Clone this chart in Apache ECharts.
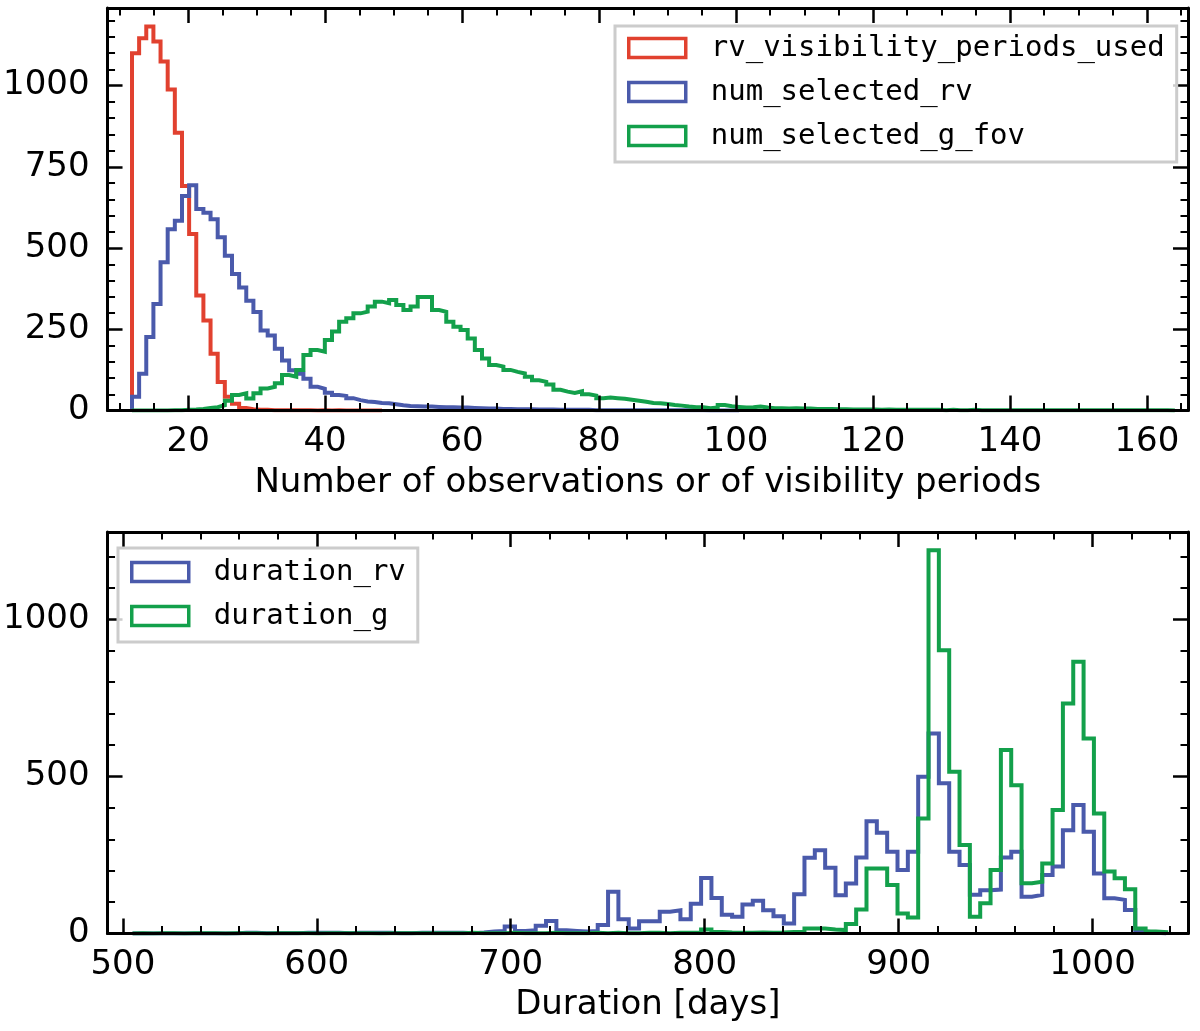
<!DOCTYPE html>
<html>
<head>
<meta charset="utf-8">
<script src="https://cdn.jsdelivr.net/npm/echarts@6/dist/echarts.min.js"></script>
<style>
html,body{margin:0;padding:0;background:#ffffff;}
#chart{width:1200px;height:1031px;}
</style>
</head>
<body>
<div id="chart"></div>
<script>
// ---------------- DATA ----------------
// Top panel: shared histogram bins
const TOP_BIN_START = 11.8;
const TOP_BIN_WIDTH = 1.043;
const rvVisibilityPeriodsUsed = [1100, 1146, 1182, 1136, 1074, 988, 855, 691, 543, 354, 277, 175, 88, 42, 21, 8, 4, 2, 2, 1, 1, 1, 1, 1, 1, 0, 1, 0, 1, 0, 0, 0, 0, 0, 0];
const numSelectedRv = [42, 113, 226, 328, 456, 558, 584, 660, 693, 620, 609, 589, 533, 476, 420, 379, 338, 303, 246, 231,
  190, 154, 124, 113, 98, 73, 67, 55, 48, 45, 38, 32, 28, 26, 23, 22, 19, 16, 14, 13,
  12, 12, 11, 10, 10, 9, 9, 8, 7, 6, 6, 5, 5, 4, 4, 4, 3, 3, 3, 2,
  2, 2, 2, 2, 1, 1, 1, 1, 1, 1, 1, 1, 1, 1, 1, 1, 1, 1, 1, 1, 0, 0, 0, 0, 0];
const numSelectedGFov = [0, 0, 0, 0, 0, 1, 1, 2, 3, 5, 8, 10, 16, 30, 48, 53, 37, 53, 68, 73,
  84, 109, 104, 125, 171, 186, 181, 217, 243, 273, 284, 299, 304, 320, 335, 330, 340, 325, 309, 320,
  349, 349, 309, 304, 273, 258, 248, 222, 186, 160, 140, 135, 125, 119, 114, 104, 93, 88, 80, 64,
  58, 54, 59, 50, 46, 38, 40, 38, 36, 33, 30, 27, 23, 22, 20, 17, 15, 12, 10, 10,
  7, 9, 17, 13, 11, 9, 10, 12, 9, 7, 7, 6, 7, 6, 6, 5, 5, 5, 4, 4,
  3, 3, 3, 3, 2, 3, 2, 2, 2, 2, 2, 2, 2, 1, 2, 1, 1, 2, 1, 1,
  1, 1, 1, 1, 1, 1, 1, 1, 1, 1, 1, 1, 1, 1, 1, 1, 1, 1, 1, 1, 1, 1, 1, 1, 1, 0];

// Bottom panel: shared histogram bins
const BOTTOM_BIN_START = 505;
const BOTTOM_BIN_WIDTH = 5.33;
const durationRv = [0, 0, 0, 0, 0, 0, 0, 0, 0, 0,
  2, 2, 1, 1, 1, 1, 2, 2, 2, 2,
  1, 2, 2, 2, 2, 1, 1, 2, 2, 2,
  2, 2, 1, 3, 6, 8, 22, 8, 10, 25,
  40, 10, 8, 6, 8, 27, 133, 45, 16, 39,
  39, 69, 74, 45, 95, 177, 113, 60, 53, 92,
  104, 74, 55, 32, 125, 241, 265, 209, 122, 159,
  242, 357, 321, 260, 202, 260, 499, 637, 478, 260,
  218, 123, 138, 140, 242, 260, 117, 123, 186, 213,
  329, 409, 324, 191, 112, 107, 75, 6, 3, 0];
const durationG = [1, 0, 1, 1, 0, 1, 1, 1, 0, 1,
  1, 1, 0, 1, 1, 1, 1, 0, 1, 1,
  1, 1, 1, 0, 1, 1, 1, 1, 1, 1,
  1, 1, 2, 1, 1, 1, 2, 1, 1, 1,
  2, 1, 1, 1, 2, 1, 2, 1, 1, 2,
  2, 1, 2, 2, 2, 13, 5, 3, 2, 2,
  3, 2, 3, 5, 5, 16, 16, 13, 11, 30,
  76, 207, 207, 154, 64, 51, 366, 1220, 902, 515,
  282, 53, 96, 202, 584, 472, 160, 165, 223, 393,
  732, 865, 621, 382, 197, 176, 141, 16, 6, 4];

// Tick labels
const topXTicks = [20, 40, 60, 80, 100, 120, 140, 160];
const topYTicks = [0, 250, 500, 750, 1000];
const bottomXTicks = [500, 600, 700, 800, 900, 1000];
const bottomYTicks = [0, 500, 1000];

const SERIES_NAMES_TOP = ['rv_visibility_periods_used', 'num_selected_rv', 'num_selected_g_fov'];
const SERIES_NAMES_BOTTOM = ['duration_rv', 'duration_g'];
const TOP_X_TITLE = 'Number of observations or of visibility periods';
const BOTTOM_X_TITLE = 'Duration [days]';

// ---------------- STYLE ----------------
const RED = '#e1412f';
const BLUE = '#4a5aab';
const GREEN = '#13a04b';

function minorTicks(from, to, step, majorStep) {
  const out = [];
  for (let v = from; v <= to + 1e-9; v += step) {
    const r = Math.round(v * 1000) / 1000;
    if (Math.abs(r / majorStep - Math.round(r / majorStep)) > 1e-6) out.push(r);
  }
  return out;
}

function stepData(start, width, values) {
  const pts = [[start, 0]];
  values.forEach((v, i) => pts.push([start + i * width, v]));
  pts.push([start + values.length * width, 0]);
  return pts;
}

function axisSet(dim, gridIndex, min, max, majors, minors, extra) {
  const positions = dim === 'x' ? ['bottom', 'top'] : ['left', 'right'];
  const out = [];
  positions.forEach((pos, pi) => {
    const major = {
      type: 'value', gridIndex: gridIndex, min: min, max: max, position: pos, z: 5, silent: true,
      splitLine: {show: false},
      axisLine: {show: true, onZero: false, lineStyle: {color: '#000', width: 3}},
      axisTick: {show: true, inside: true, length: 15, customValues: majors, lineStyle: {color: '#000', width: 2.5}},
      axisLabel: pi === 0 ? {
        show: true, customValues: majors, margin: dim === 'x' ? 15 : 18, color: '#000', fontSize: 34,
        fontFamily: 'DejaVu Sans', formatter: function (v) { return String(v); }
      } : {show: false}
    };
    if (pi === 0 && extra) Object.assign(major, extra);
    out.push(major);
    out.push({
      type: 'value', gridIndex: gridIndex, min: min, max: max, position: pos, z: 5, silent: true,
      splitLine: {show: false},
      axisLine: {show: false, onZero: false},
      axisLabel: {show: false},
      axisTick: {show: true, inside: true, length: 7.5, customValues: minors, lineStyle: {color: '#000', width: 2}}
    });
  });
  return out;
}

const nameStyle = {fontSize: 34, color: '#000', fontFamily: 'DejaVu Sans'};

const xAxes = [].concat(
  axisSet('x', 0, 8.23, 166.0, topXTicks, minorTicks(10, 165, 5, 20),
    {name: TOP_X_TITLE, nameLocation: 'middle', nameGap: 56, nameTextStyle: nameStyle}),
  axisSet('x', 1, 492.1, 1049.2, bottomXTicks, minorTicks(500, 1040, 20, 100),
    {name: BOTTOM_X_TITLE, nameLocation: 'middle', nameGap: 55, nameTextStyle: nameStyle})
);
const yAxes = [].concat(
  axisSet('y', 0, 0, 1239, topYTicks, minorTicks(50, 1200, 50, 250)),
  axisSet('y', 1, 0, 1278, bottomYTicks, minorTicks(100, 1200, 100, 500))
);

function histSeries(name, color, start, width, values, gi) {
  return {
    name: name, type: 'line', step: 'end', xAxisIndex: gi * 4, yAxisIndex: gi * 4,
    data: stepData(start, width, values), showSymbol: false, symbol: 'none',
    lineStyle: {color: color, width: 4, join: 'miter'}, itemStyle: {color: color},
    emphasis: {disabled: true}, silent: true, z: 2
  };
}

function legendItem(name, color) {
  return {name: name, icon: 'rect', itemStyle: {color: 'rgba(0,0,0,0)', borderColor: color, borderWidth: 3.5}};
}

const legendText = {fontFamily: 'DejaVu Sans Mono', fontSize: 29, color: '#000', padding: [0, 0, 0, 20], lineHeight: 30};

const option = {
  animation: false,
  backgroundColor: '#ffffff',
  grid: [
    {left: 105, top: 8, width: 1083, height: 402.5, containLabel: false},
    {left: 105, top: 532, width: 1083, height: 401.5, containLabel: false}
  ],
  xAxis: xAxes,
  yAxis: yAxes,
  legend: [
    {
      data: [legendItem(SERIES_NAMES_TOP[0], RED), legendItem(SERIES_NAMES_TOP[1], BLUE), legendItem(SERIES_NAMES_TOP[2], GREEN)],
      orient: 'vertical', left: 615, top: 26, itemWidth: 57, itemHeight: 19, itemGap: 14,
      padding: [7, 12, 11, 12], borderColor: '#cccccc', borderWidth: 3, borderRadius: 0,
      backgroundColor: 'rgba(255,255,255,0.8)', textStyle: legendText, selectedMode: false, z: 10
    },
    {
      data: [legendItem(SERIES_NAMES_BOTTOM[0], BLUE), legendItem(SERIES_NAMES_BOTTOM[1], GREEN)],
      orient: 'vertical', left: 118, top: 548, itemWidth: 57, itemHeight: 19, itemGap: 14,
      padding: [9, 12, 11, 12], borderColor: '#cccccc', borderWidth: 3, borderRadius: 0,
      backgroundColor: 'rgba(255,255,255,0.8)', textStyle: legendText, selectedMode: false, z: 10
    }
  ],
  series: [
    histSeries(SERIES_NAMES_TOP[0], RED, TOP_BIN_START, TOP_BIN_WIDTH, rvVisibilityPeriodsUsed, 0),
    histSeries(SERIES_NAMES_TOP[1], BLUE, TOP_BIN_START, TOP_BIN_WIDTH, numSelectedRv, 0),
    histSeries(SERIES_NAMES_TOP[2], GREEN, TOP_BIN_START, TOP_BIN_WIDTH, numSelectedGFov, 0),
    histSeries(SERIES_NAMES_BOTTOM[0], BLUE, BOTTOM_BIN_START, BOTTOM_BIN_WIDTH, durationRv, 1),
    histSeries(SERIES_NAMES_BOTTOM[1], GREEN, BOTTOM_BIN_START, BOTTOM_BIN_WIDTH, durationG, 1)
  ]
};

const chart = echarts.init(document.getElementById('chart'), null, {renderer: 'canvas'});
chart.setOption(option);
</script>
</body>
</html>
